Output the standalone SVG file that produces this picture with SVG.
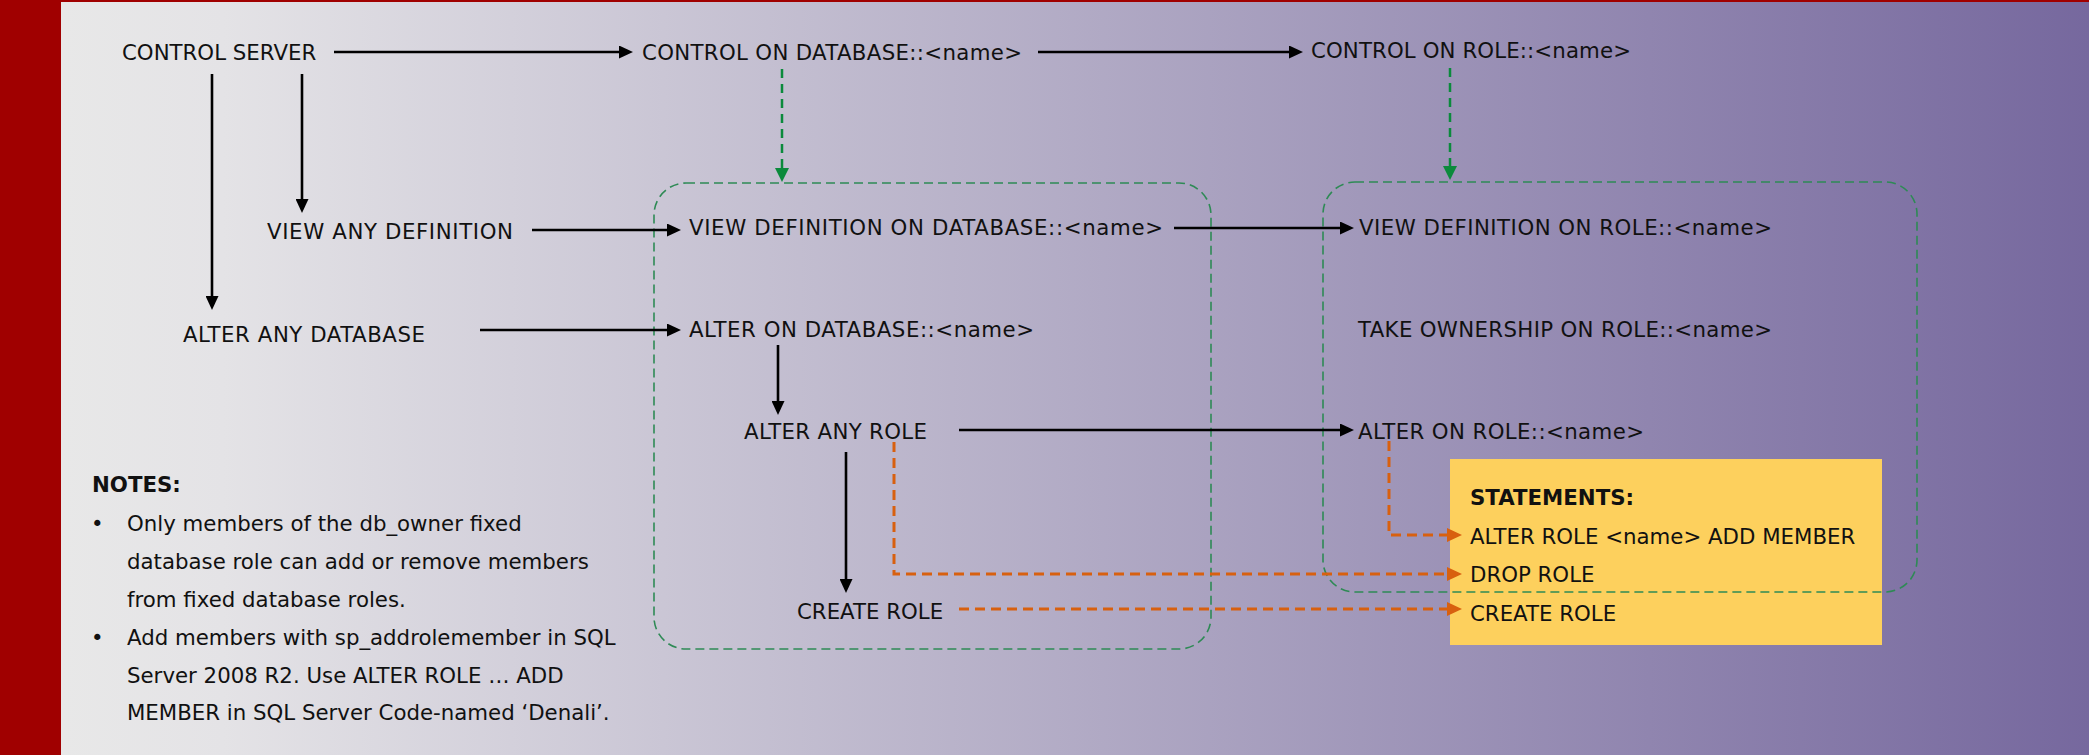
<svg xmlns="http://www.w3.org/2000/svg" width="2089" height="755" viewBox="0 0 2089 755">
<defs>
<linearGradient id="bg" x1="61" y1="0" x2="2089" y2="0" gradientUnits="userSpaceOnUse">
<stop offset="0" stop-color="#e8e8e8"/>
<stop offset="0.08" stop-color="#e4e3e6"/>
<stop offset="1" stop-color="#76689e"/>
</linearGradient>
<marker id="ab" markerUnits="userSpaceOnUse" markerWidth="15" markerHeight="13" refX="0" refY="6.5" orient="auto">
<path d="M0,0 L14,6.5 L0,13 z" fill="#000"/>
</marker>
<marker id="ag" markerUnits="userSpaceOnUse" markerWidth="15" markerHeight="15" refX="0" refY="7" orient="auto">
<path d="M0,0 L14,7 L0,14 z" fill="#0b8a3c"/>
</marker>
<marker id="ao" markerUnits="userSpaceOnUse" markerWidth="16" markerHeight="15" refX="0" refY="7" orient="auto">
<path d="M0,0 L15,7 L0,14 z" fill="#d8600f"/>
</marker>
</defs>
<style>
.t{font-family:"DejaVu Sans","Liberation Sans",sans-serif;font-size:21.3px;fill:#111}
.b{font-weight:bold}
.blk{fill:none;stroke:#000;stroke-width:2.6;marker-end:url(#ab)}
.grn{fill:none;stroke:#0b8a3c;stroke-width:2.5;stroke-dasharray:9 6;marker-end:url(#ag)}
.org{fill:none;stroke:#d8600f;stroke-width:3;stroke-dasharray:10 6;marker-end:url(#ao)}
.box{fill:none;stroke:#2e8a55;stroke-width:1.6;stroke-dasharray:9 5}
</style>
<rect x="0" y="0" width="2089" height="755" fill="url(#bg)"/>
<rect x="0" y="0" width="61" height="755" fill="#a00000"/>
<rect x="0" y="0" width="2089" height="2" fill="#a00000"/>

<g id="statements">
<rect x="1450" y="459" width="432" height="186" fill="#fdd05d"/>
<text class="t b" x="1470" y="505">STATEMENTS:</text>
<text class="t" x="1470" y="544">ALTER ROLE &lt;name&gt; ADD MEMBER</text>
<text class="t" x="1470" y="582">DROP ROLE</text>
<text class="t" x="1470" y="621">CREATE ROLE</text>
</g>

<g id="database-scope">
<rect class="box" x="654" y="183" width="557" height="466" rx="32" ry="32"/>
</g>
<g id="role-scope">
<rect class="box" x="1323" y="182" width="594" height="410" rx="32" ry="32"/>
</g>

<g id="control-server"><text class="t" x="122" y="60">CONTROL SERVER</text></g>
<g id="control-db"><text class="t" x="642" y="60" textLength="380">CONTROL ON DATABASE::&lt;name&gt;</text></g>
<g id="control-role"><text class="t" x="1311" y="58" textLength="320">CONTROL ON ROLE::&lt;name&gt;</text></g>
<g id="view-any-def"><text class="t" x="267" y="239" textLength="246">VIEW ANY DEFINITION</text></g>
<g id="view-def-db"><text class="t" x="689" y="235" textLength="474">VIEW DEFINITION ON DATABASE::&lt;name&gt;</text></g>
<g id="view-def-role"><text class="t" x="1359" y="235" textLength="413">VIEW DEFINITION ON ROLE::&lt;name&gt;</text></g>
<g id="alter-any-db"><text class="t" x="183" y="342" textLength="242">ALTER ANY DATABASE</text></g>
<g id="alter-db"><text class="t" x="689" y="337" textLength="345">ALTER ON DATABASE::&lt;name&gt;</text></g>
<g id="take-ownership"><text class="t" x="1358" y="337" textLength="414">TAKE OWNERSHIP ON ROLE::&lt;name&gt;</text></g>
<g id="alter-any-role"><text class="t" x="744" y="439" textLength="183">ALTER ANY ROLE</text></g>
<g id="alter-role"><text class="t" x="1358" y="439" textLength="286">ALTER ON ROLE::&lt;name&gt;</text></g>
<g id="create-role"><text class="t" x="797" y="619">CREATE ROLE</text></g>

<g id="notes">
<text class="t b" x="92" y="492">NOTES:</text>
<text class="t" x="91" y="531">•</text>
<text class="t" x="127" y="531">Only members of the db_owner fixed</text>
<text class="t" x="127" y="569">database role can add or remove members</text>
<text class="t" x="127" y="607">from fixed database roles.</text>
<text class="t" x="91" y="645">•</text>
<text class="t" x="127" y="645">Add members with sp_addrolemember in SQL</text>
<text class="t" x="127" y="683">Server 2008 R2. Use ALTER ROLE … ADD</text>
<text class="t" x="127" y="720">MEMBER in SQL Server Code-named ‘Denali’.</text>
</g>

<g id="connectors">
<path class="blk" d="M334,52 H619"/>
<path class="blk" d="M1038,52 H1289"/>
<path class="blk" d="M302,74 V199"/>
<path class="blk" d="M212,74 V296"/>
<path class="blk" d="M532,230 H667"/>
<path class="blk" d="M480,330 H667"/>
<path class="blk" d="M1174,228 H1340"/>
<path class="blk" d="M778,345 V401"/>
<path class="blk" d="M959,430 H1340"/>
<path class="blk" d="M846,452 V579"/>
<path class="grn" d="M782,69 V168"/>
<path class="grn" d="M1450,68 V166"/>
<path class="org" d="M1389,441 V535 H1447"/>
<path class="org" d="M894,442 V574 H1447"/>
<path class="org" d="M959,609 H1447"/>
</g>
</svg>
